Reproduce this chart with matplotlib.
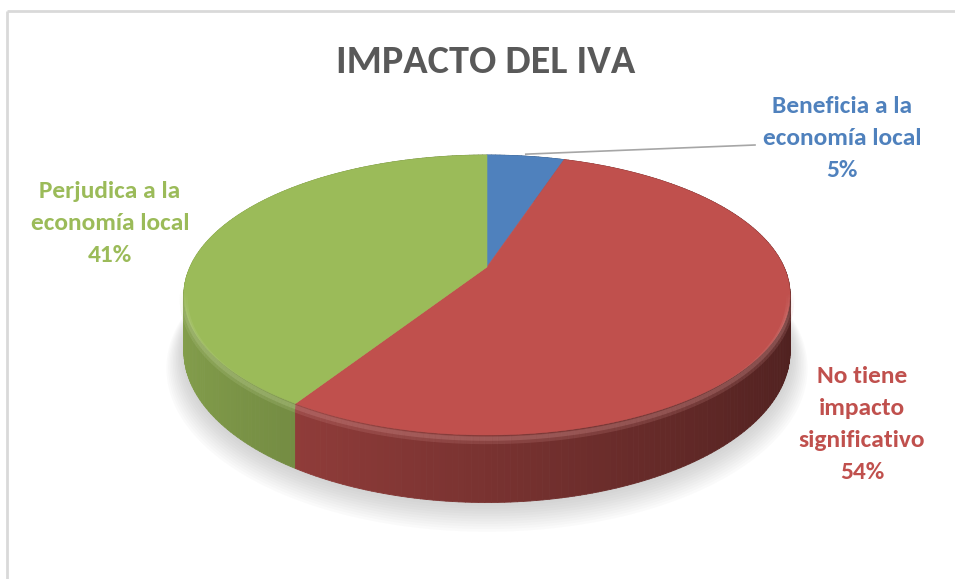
import textwrap
import numpy as np
import matplotlib
matplotlib.use("Agg")
import matplotlib.pyplot as plt
from matplotlib.collections import PolyCollection, LineCollection
from matplotlib.colors import to_rgb

plt.rcParams['font.family'] = ['Carlito', 'Lato', 'DejaVu Sans']

# data
title = "IMPACTO DEL IVA"
categories = ["Beneficia a la economía local",
              "No tiene impacto significativo",
              "Perjudica a la economía local"]
values = [5, 54, 41]
colors = ['#4f81bd', '#c0504d', '#9bbb59']

# label placement (pixels): first baseline x, y
label_pos = [(842, 113), (862, 383), (110, 198)]
line_step = 32

# 3d pie geometry in pixel space
cx, cy = 487, 267          # projected centre of the top face
A, B, k = 297, 134.4, 0.2  # x radius, y radius, perspective
H = 54                     # depth of the pie


def proj(theta, r=1.0, z=0.0):
    """ theta clockwise from the back (12 o'clock) """
    u = r * np.sin(theta)
    v = -r * np.cos(theta)
    w = 1 - k * v
    return cx + A * u / w, cy + (B * v + z) / w


def shade(c, f):
    return tuple(np.clip(np.array(to_rgb(c)) * f, 0, 1))


def lighten(c, f):
    c = np.array(to_rgb(c))
    return tuple(c + (1 - c) * f)


fig = plt.figure(figsize=(9.55, 5.79), dpi=100)
ax = fig.add_axes([0, 0, 1, 1])
ax.set_xlim(0, 955)
ax.set_ylim(579, 0)
ax.axis('off')

# chart border (only top and left edges show)
ax.plot([7, 955], [11, 11], color='#d9d9d9', lw=2, solid_capstyle='butt')
ax.plot([7, 7], [11, 579], color='#d9d9d9', lw=2, solid_capstyle='butt')

total = float(sum(values))
bounds = np.concatenate([[0], np.cumsum(values)]) / total * 2 * np.pi

# soft shadow under the pie
full = np.linspace(0, 2 * np.pi, 361)
for i in range(12):
    xs, ys = proj(full, r=1.0 + 0.005 * i, z=H + 1 + i * 1.1)
    ax.fill(xs, ys, color='#7f7f7f', alpha=0.03, lw=0)

# side walls, back to front
quads, qcols, depth = [], [], []
for t0, t1, c in zip(bounds[:-1], bounds[1:], colors):
    n = max(int(np.degrees(t1 - t0)), 2)
    th = np.linspace(t0, t1, n + 1)
    for a, b in zip(th[:-1], th[1:]):
        x1, y1 = proj(a)
        x2, y2 = proj(b)
        x3, y3 = proj(b, z=H)
        x4, y4 = proj(a, z=H)
        quads.append([(x1, y1), (x2, y2), (x3, y3), (x4, y4)])
        um = np.sin((a + b) / 2)
        qcols.append(shade(c, 0.63 - 0.22 * um))
        depth.append(-np.cos((a + b) / 2))
order = np.argsort(depth)
quads = [quads[i] for i in order]
qcols = [qcols[i] for i in order]
ax.add_collection(PolyCollection(quads, facecolors=qcols, edgecolors=qcols, linewidths=0.6))

# bevel highlight just under the front rim
for t0, t1, c in zip(bounds[:-1], bounds[1:], colors):
    th = np.linspace(t0, t1, 200)
    v = -np.cos(th[:-1])
    for z, lw, amax in [(4, 6, 0.18), (3, 3, 0.25)]:
        xs, ys = proj(th, z=z)
        segs = [[(xs[i], ys[i]), (xs[i + 1], ys[i + 1])] for i in range(len(th) - 1)]
        alph = np.clip((v - 0.15) * 1.2, 0, amax)
        lc = [(*lighten(c, 0.4), al) for al in alph]
        ax.add_collection(LineCollection(segs, colors=lc, linewidths=lw))

# top faces
for t0, t1, c in zip(bounds[:-1], bounds[1:], colors):
    th = np.linspace(t0, t1, 200)
    xs, ys = proj(th)
    ax.fill(np.r_[cx, xs], np.r_[cy, ys], color=c, lw=0.4, ec=c)

# title
ax.text(486, 73, title, ha='center', va='baseline', fontsize=29,
        fontweight='bold', color='#595959')

# data labels
mid = (bounds[:-1] + bounds[1:]) / 2
for i, (cat, val, c) in enumerate(zip(categories, values, colors)):
    lines = textwrap.wrap(cat, 14) + ['{:.0f}%'.format(val / total * 100)]
    lx, ly = label_pos[i]
    for j, s in enumerate(lines):
        ax.text(lx, ly + j * line_step, s, ha='center', va='baseline',
                fontsize=18.3, fontweight='bold', color=c)

# leader line for the small slice
ex, ey = proj(mid[0])
ax.plot([ex, 755], [ey - 2, 145], color='#a6a6a6', lw=1.2)

fig.savefig('out.png', dpi=100)
